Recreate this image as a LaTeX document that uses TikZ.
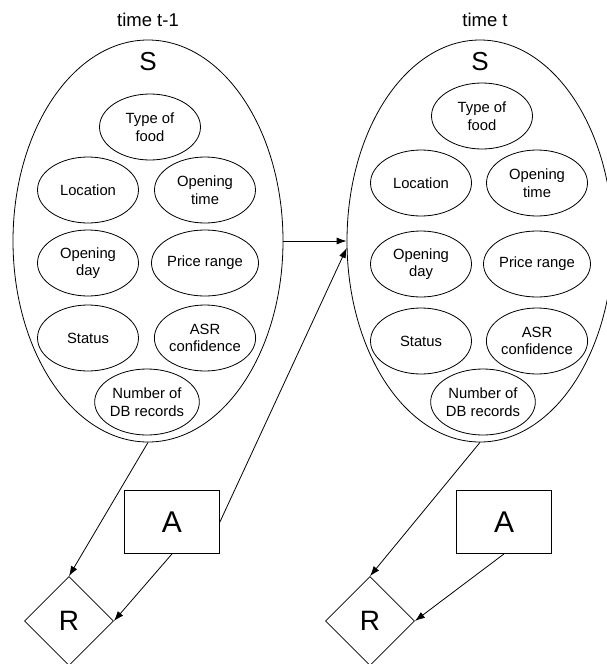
\documentclass[tikz,border=0pt]{standalone}
\usepackage{fontspec}
\setmainfont{Liberation Sans}
\usetikzlibrary{shapes.geometric,arrows.meta}
\begin{document}
\begin{tikzpicture}[x=1pt,y=-1pt,
  line width=0.8pt,
  stateset/.style={draw,ellipse,inner sep=0pt,minimum width=270pt,minimum height=402pt},
  var/.style={draw,ellipse,inner sep=0pt,minimum width=101pt,minimum height=66pt,align=center,
    font=\fontsize{14.8}{17.5}\selectfont},
  title/.style={font=\fontsize{18.5}{20}\selectfont},
  slabel/.style={font=\fontsize{26}{28}\selectfont},
  actbox/.style={draw,rectangle,inner sep=0pt,minimum width=95pt,minimum height=63pt,
    font=\fontsize{30}{32}\selectfont},
  rewbox/.style={draw,diamond,inner sep=0pt,minimum width=89pt,minimum height=89pt,
    font=\fontsize{28}{30}\selectfont},
  arr/.style={-{Latex[length=10pt,width=7pt]}}]
\useasboundingbox (0,0) rectangle (607,664);

% ---- slice at time t-1 ----
\node[title] (t1) at (148,20) {time t-1};
\node[stateset] (S1) at (148,241) {};
\node[slabel] (s1) at (148,62) {S};
\node[var] (food1) at (150,127) {Type of\\food};
\node[var] (loc1) at (88,190) {Location};
\node[var] (otime1) at (205,190) {Opening\\time};
\node[var] (oday1) at (88,263) {Opening\\day};
\node[var] (price1) at (205,263) {Price range};
\node[var] (stat1) at (88,338) {Status};
\node[var] (asr1) at (205,338) {ASR\\confidence};
\node[var] (db1) at (147,402) {Number of\\DB records};
\node[actbox] (A1) at (172,522) {A};
\node[rewbox] (R1) at (69,621) {R};

% ---- slice at time t ----
\node[title] (t2) at (485,20) {time t};
\node[stateset,minimum width=266pt] (S2) at (480,241) {};
\node[slabel] (s2) at (480,62) {S};
\node[var] (food2) at (482,116) {Type of\\food};
\node[var] (loc2) at (421,183) {Location};
\node[var] (otime2) at (537,183) {Opening\\time};
\node[var] (oday2) at (421,264) {Opening\\day};
\node[var] (price2) at (537,264) {Price range};
\node[var] (stat2) at (421,341) {Status};
\node[var] (asr2) at (537,341) {ASR\\confidence};
\node[var] (db2) at (483,402) {Number of\\DB records};
\node[actbox] (A2) at (504,522) {A};
\node[rewbox] (R2) at (370,621) {R};

% ---- dependencies ----
\draw[arr] (S1.east) -- (S2.west);
\draw[arr] (A1.east) -- (S2.183);
\draw[arr] (S1.south) -- (R1.north);
\draw[arr] (A1.south) -- (R1.east);
\draw[arr] (S2.south) -- (R2.north);
\draw[arr] (A2.south) -- (R2.east);
\end{tikzpicture}
\end{document}
